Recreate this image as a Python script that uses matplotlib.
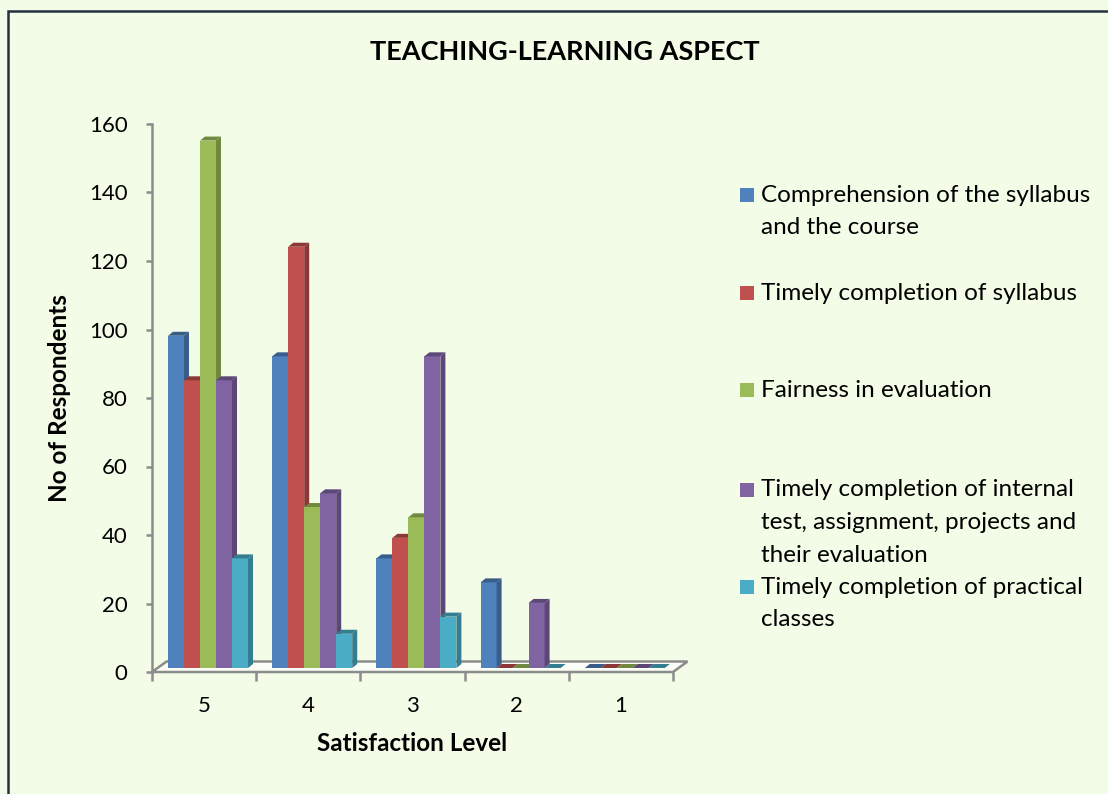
import numpy as np
import matplotlib
matplotlib.use('Agg')
import matplotlib.pyplot as plt
from matplotlib.patches import Polygon, Rectangle

plt.rcParams['font.family'] = ['Lato', 'DejaVu Sans']

# data (No of Respondents per satisfaction level)
levels = ['5', '4', '3', '2', '1']
comprehension   = [97, 91, 32, 25, 0]
timely_syllabus = [84, 123, 38, 0, 0]
fairness        = [154, 47, 44, 0, 0]
internal_test   = [84, 51, 91, 19, 0]
practical       = [32, 10, 15, 0, 0]

series = [comprehension, timely_syllabus, fairness, internal_test, practical]
names = [['Comprehension of the syllabus', 'and the course'],
         ['Timely completion of syllabus'],
         ['Fairness in evaluation'],
         ['Timely completion of internal', 'test, assignment, projects and', 'their evaluation'],
         ['Timely completion of practical', 'classes']]
colors = ['#4F81BD', '#C0504D', '#9BBB59', '#8064A2', '#4BACC6']
sides  = ['#385D8A', '#8C3836', '#71893F', '#5C4776', '#357D91']

bg = '#F3FCE7'
W, H = 1108, 794
fig = plt.figure(figsize=(W / 100, H / 100), dpi=100, facecolor=bg)

# plot area in pixels: x 152..673, y 124..672 (from top)
ax = fig.add_axes([152 / W, (H - 672) / H, 521 / W, 548 / H])
ax.set_facecolor('none')
ax.set_xlim(0, 5)
ax.set_ylim(0, 160)

# pixel -> data unit helpers for the fake 3D look
px_x = 5 / 521
px_y = 160 / 548
bar_w = 16 * px_x
first = 16 * px_x
base = 4 * px_y
dx, dy = 5 * px_x, 4 * px_y

# floor
fdx, fdy = 14.5 * px_x, 10.5 * px_y
floor = Polygon([(0, 0), (5, 0), (5 + fdx, fdy), (fdx, fdy)], closed=True,
                facecolor='#FBFEF6', edgecolor='#8C8C8C', lw=1.8, zorder=2, clip_on=False)
ax.add_patch(floor)

for j, vals in enumerate(series):
    x = np.arange(len(levels)) + first + j * bar_w
    ax.bar(x, vals, width=bar_w, bottom=base, align='edge', color=colors[j],
           lw=0, zorder=3 + j)
    for xi, v in zip(x, vals):
        top = base + v
        ax.add_patch(Polygon([(xi + bar_w, base), (xi + bar_w + dx, base + dy),
                              (xi + bar_w + dx, top + dy), (xi + bar_w, top)],
                             closed=True, color=sides[j], lw=0, zorder=3 + j, clip_on=False))
        ax.add_patch(Polygon([(xi, top), (xi + dx, top + dy),
                              (xi + bar_w + dx, top + dy), (xi + bar_w, top)],
                             closed=True, color=sides[j], lw=0, zorder=3 + j, clip_on=False))

# axes styling
for s in ['top', 'right', 'bottom']:
    ax.spines[s].set_visible(False)
ax.spines['left'].set_color('#8C8C8C')
ax.spines['left'].set_linewidth(1.8)
ax.set_yticks(np.arange(0, 161, 20))
ax.tick_params(axis='y', length=4.5, width=1.8, color='#8C8C8C', pad=13,
               labelsize=16, labelcolor='black')
ax.set_xticks(np.arange(len(levels)) + 0.5)
ax.set_xticklabels(levels)
ax.set_xticks(np.arange(0, 6), minor=True)
ax.tick_params(axis='x', which='major', length=0, pad=17, labelsize=16)
ax.tick_params(axis='x', which='minor', length=6.5, width=1.8, color='#8C8C8C')

ax.set_xlabel('Satisfaction Level', fontsize=17.5, fontweight='bold', labelpad=12)
ax.set_ylabel('No of Respondents', fontsize=17.5, fontweight='bold', labelpad=13)

fig.text(565 / W, 1 - 52 / H, 'TEACHING-LEARNING ASPECT', ha='center', va='center',
         fontsize=19.5, fontweight='bold')

# legend drawn by hand so the entries sit in Excel-like slots
entry_y = [195, 293, 390, 490, 587]
line_h = 32.5
for j, lines in enumerate(names):
    y0 = entry_y[j]
    fig.add_artist(Rectangle((740 / W, 1 - (y0 + 7) / H), 14 / W, 14 / H,
                             transform=fig.transFigure, color=colors[j], lw=0))
    for k, ln in enumerate(lines):
        fig.text(761 / W, 1 - (y0 + k * line_h) / H, ln, ha='left', va='center',
                 fontsize=17.5)

# chart border (runs off the right and bottom edges)
fig.add_artist(Rectangle((8 / W, -0.05), 1.2, 1.05 - 11 / H, transform=fig.transFigure,
                         fill=False, edgecolor='#243040', lw=1.8))

fig.savefig('out.png', dpi=100, facecolor=bg)
